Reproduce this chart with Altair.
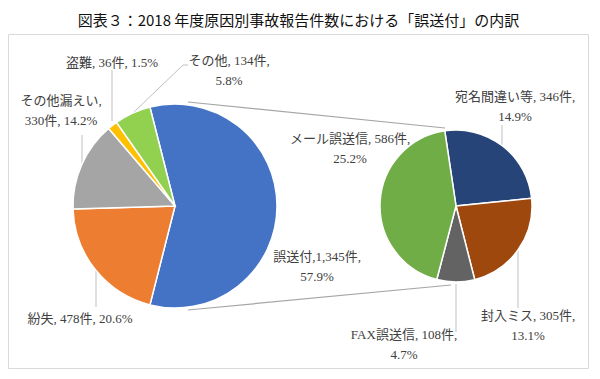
import math
import altair as alt
import pandas as pd

# ---------------- data ----------------
title_text = "図表３：2018 年度原因別事故報告件数における「誤送付」の内訳"

left_cats = ["誤送付", "紛失", "その他漏えい", "盗難", "その他"]
left_counts = [1345, 478, 330, 36, 134]
left_pcts = ["57.9%", "20.6%", "14.2%", "1.5%", "5.8%"]

right_cats = ["宛名間違い等", "封入ミス", "FAX誤送信", "メール誤送信"]
right_counts = [346, 305, 108, 586]
right_pcts = ["14.9%", "13.1%", "4.7%", "25.2%"]

# ---------------- styles / layout ----------------
left_colors = ["#4472C4", "#ED7D31", "#A5A5A5", "#FFC000", "#92D050"]
right_colors = ["#264478", "#9E480E", "#636363", "#70AD47"]

W, H = 584, 363
M = 8  # page margin
LC, LR, L_START = (175, 206), 102, -14.22
RC, RR, R_START = (456, 206), 76, -8.5

# label anchor (center x, first line y), line break style, separator
label_layout = {
    "誤送付": (317, 257, "count", ","),
    "紛失": (80, 319, None, ", "),
    "その他漏えい": (61, 101, "name", ", "),
    "盗難": (112, 63, None, ", "),
    "その他": (229, 61, "count", ", "),
    "宛名間違い等": (515, 97, "count", ", "),
    "封入ミス": (528, 316, "count", ", "),
    "FAX誤送信": (404, 335, "count", ", "),
    "メール誤送信": (350, 139, "count", ", "),
}
LINE_H = 20

leader_segments = [
    (112, 70, 112, 121),
    (188, 65, 183, 65),
    (183, 65, 133, 113),
    (82, 135, 82, 163),
    (96, 271, 96, 307),
    (502, 125, 502, 145),
    (518, 251, 518, 308),
    (456, 284, 456, 332),
]
connector_segments = [
    (188, 102, 445, 128),
    (188, 310, 451, 285),
]

xs = alt.Scale(domain=[M, M + W], range=[0, W], zero=False, nice=False)
ys = alt.Scale(domain=[M, M + H], range=[0, H], zero=False, nice=False)

LABEL_FONT = "Liberation Serif, Noto Sans CJK JP"


def label_rows(cats, counts, pcts):
    rows = []
    for c, n, p in zip(cats, counts, pcts):
        x, y, brk, sep = label_layout[c]
        if brk == "name":
            lines = [f"{c},", f"{n:,}件, {p}"]
        elif brk == "count":
            lines = [f"{c}{sep}{n:,}件,", p]
        else:
            lines = [f"{c}{sep}{n:,}件, {p}"]
        for i, t in enumerate(lines):
            rows.append({"text": t, "x": x, "y": y + i * LINE_H})
    return rows


def pie(cats, counts, colors, center, r, start_deg):
    df = pd.DataFrame({"cat": cats, "value": counts, "idx": list(range(len(cats)))})
    a0 = math.radians(start_deg) + 2 * math.pi
    return alt.Chart(df).mark_arc(radius=r, stroke="white", strokeWidth=1.5).encode(
        theta=alt.Theta("value:Q", stack=True,
                        scale=alt.Scale(range=[a0, a0 + 2 * math.pi])),
        color=alt.Color("cat:N", scale=alt.Scale(domain=cats, range=colors), legend=None),
        order=alt.Order("idx:Q"),
        x=alt.value(center[0] - M),
        y=alt.value(center[1] - M),
    )


def segs(seglist, color, width):
    df = pd.DataFrame(seglist, columns=["x1", "y1", "x2", "y2"])
    return alt.Chart(df).mark_rule(color=color, strokeWidth=width).encode(
        x=alt.X("x1:Q", scale=xs, axis=None),
        x2="x2:Q",
        y=alt.Y("y1:Q", scale=ys, axis=None),
        y2="y2:Q",
    )


border = alt.Chart(alt.Data(values=[{}])).mark_rect(
    fill="transparent", stroke="#D9D9D9", strokeWidth=1
).encode(
    x=alt.value(0.5), x2=alt.value(580.5), y=alt.value(26.5), y2=alt.value(360.5)
)

connectors = segs(connector_segments, "#A6A6A6", 1.2)
leaders = segs(leader_segments, "#BFBFBF", 1)

left_pie = pie(left_cats, left_counts, left_colors, LC, LR, L_START)
right_pie = pie(right_cats, right_counts, right_colors, RC, RR, R_START)

labels_df = pd.DataFrame(label_rows(left_cats, left_counts, left_pcts)
                         + label_rows(right_cats, right_counts, right_pcts))
labels = alt.Chart(labels_df).mark_text(
    font=LABEL_FONT, fontSize=13, color="#404040", align="center", baseline="middle"
).encode(
    x=alt.X("x:Q", scale=xs, axis=None),
    y=alt.Y("y:Q", scale=ys, axis=None),
    text="text:N",
)

title = alt.Chart(alt.Data(values=[{"t": title_text}])).mark_text(
    font="Noto Sans CJK JP", fontSize=15, color="#111111", align="center", baseline="middle"
).encode(
    x=alt.value(298.5 - M), y=alt.value(21 - M), text="t:N"
)

chart = alt.layer(
    border, connectors, leaders, left_pie, right_pie, labels, title
).resolve_scale(
    theta="independent", color="independent"
).properties(
    width=W, height=H, padding=0, autosize="none", background="white"
).configure_view(strokeWidth=0)

chart.save("out.html", embed_options={"renderer": "svg", "actions": False})
